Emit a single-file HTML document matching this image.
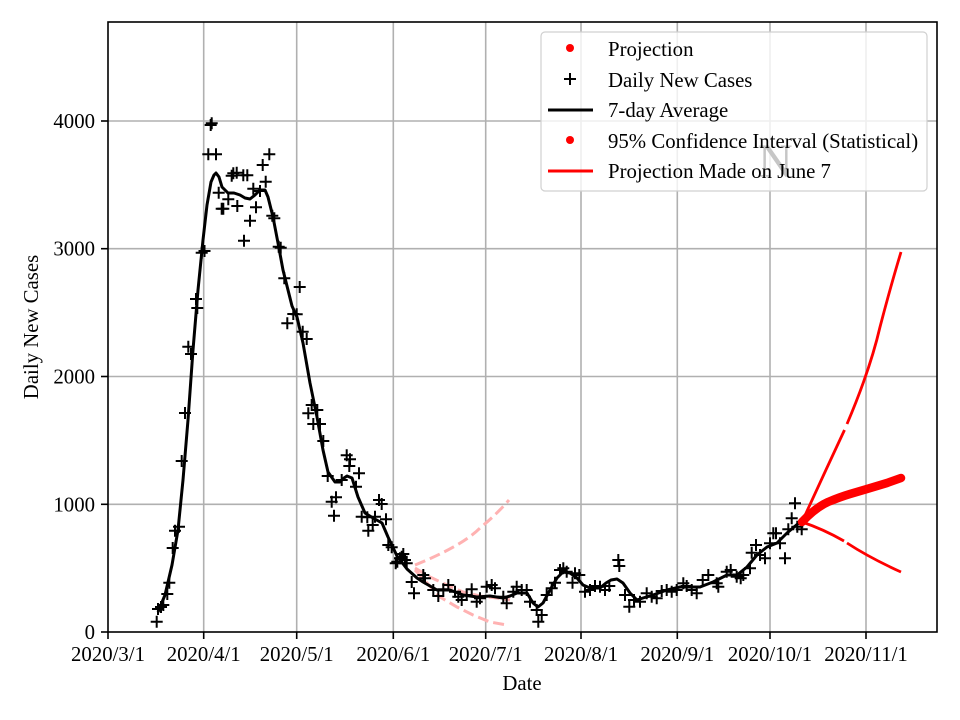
<!DOCTYPE html>
<html>
<head>
<meta charset="utf-8">
<style>
html,body{margin:0;padding:0;background:#fff;}
svg{display:block;}
text{font-family:"Liberation Serif","DejaVu Serif",serif;fill:#000;}
</style>
</head>
<body>
<svg width="960" height="720" viewBox="0 0 960 720" xmlns="http://www.w3.org/2000/svg">
<defs>
<marker id="cr" markerUnits="userSpaceOnUse" markerWidth="14" markerHeight="14" refX="7" refY="7" viewBox="0 0 14 14" overflow="visible">
<path d="M1,7h12M7,1v12" stroke="#000" stroke-width="2" fill="none"/>
</marker>
</defs>
<rect x="0" y="0" width="960" height="720" fill="#fff"/>
<g stroke="#b0b0b0" stroke-width="1.6">
<line x1="203.7" y1="22" x2="203.7" y2="632"/>
<line x1="296.7" y1="22" x2="296.7" y2="632"/>
<line x1="393.3" y1="22" x2="393.3" y2="632"/>
<line x1="485.7" y1="22" x2="485.7" y2="632"/>
<line x1="581" y1="22" x2="581" y2="632"/>
<line x1="677.3" y1="22" x2="677.3" y2="632"/>
<line x1="770" y1="22" x2="770" y2="632"/>
<line x1="866" y1="22" x2="866" y2="632"/>
<line x1="108" y1="504.3" x2="937" y2="504.3"/>
<line x1="108" y1="376.5" x2="937" y2="376.5"/>
<line x1="108" y1="248.7" x2="937" y2="248.7"/>
<line x1="108" y1="121" x2="937" y2="121"/>
</g>
<g fill="none" stroke="#ffb2b2" stroke-width="3" stroke-dasharray="11 5">
<path d="M415,565 Q462,546 480,528 Q497,514 509,500"/>
<path d="M415,568 L430,577 L447,585 L463,592 L480,596 L497,598 L510,600"/>
<path d="M415,570 L427,583 L440,597 L457,607 L473,615 L490,622 L507,625"/>
</g>
<path fill="none" stroke="#000" stroke-width="3" stroke-linejoin="round" d="M158,612 L165,595 L172,565 L178,530 L183,480 L188,420 L193,350 L198,290 L203,240 L207,205 L211,182 L214,175 L216,173 L219,177 L222,187 L228,193 L234,193 L240,195 L245,198 L250,199 L255,195 L260,190 L265,190 L268,197 L273,217 L278,243 L283,270 L288,290 L292,306 L297,317 L303,343 L310,383 L317,417 L323,450 L328,472 L335,482 L340,482 L344,478 L347,476 L352,478 L358,497 L365,513 L373,518 L382,523 L388,537 L397,556 L407,569 L417,578 L423,582 L437,590 L450,590 L463,595 L477,597 L490,596 L503,598 L510,596 L517,593 L527,593 L533,603 L538,607 L543,603 L550,590 L557,578 L563,572 L570,573 L577,578 L583,585 L590,588 L600,588 L606,583 L611,580 L617,579 L623,583 L630,593 L637,600 L643,598 L653,595 L667,590 L680,587 L690,587 L700,587 L713,582 L727,575 L737,575 L747,567 L757,555 L767,547 L777,543 L787,533 L800,522"/>
<polyline fill="none" stroke="none" marker-start="url(#cr)" marker-mid="url(#cr)" marker-end="url(#cr)" points="156.7,621.7 158,609 161,607 163.3,605 167.3,594 169.3,582.7 172.7,548 175,530.7 179,526.7 181.7,461 185,413 188.3,346.7 191,354 196,299 197.3,308 201.7,252.7 204.5,251 208.3,154.3 216,154.3 210.7,125 211.7,123.3 218.7,192.7 221.7,208.7 223.3,208.7 228.3,199.3 231.7,175.7 233.3,173.3 236.7,172.7 237.3,206 243.3,175.3 244,240.7 247.3,175.3 250,220.7 253.3,188.7 256,207.3 260,191 262.7,165 265.7,181.7 269.3,154.3 272.3,215.7 274.3,218.3 278.7,246.7 280.7,247.7 284.3,278.3 287.3,323.3 293.3,314 296.7,314.3 299.7,287 302.7,331.7 306.7,339 308.3,413.3 311.7,405 313.3,424 317.3,410 320,424 323.3,441 327.7,476 331.7,501.7 334,515.7 336,497.3 341.7,480 346.7,455.3 350,459.3 349.3,466 356,486.7 359,473.3 361.7,516.7 367.3,517.3 368.3,530.7 372.7,525 375,516.7 379,500 381.7,504 386,519.3 388.3,545 391.7,547.3 395.7,563.3 397.3,561.7 400,558.3 401.7,556.7 403.3,554 405,560 406.7,563.3 411.7,582 414,593.3 423.3,575 425,578.3 433.3,590 438.3,596 443.3,589.3 448.3,585 455,591.7 458.3,596.7 461.7,600 466.7,595 471.7,589.3 476.7,601.7 480,598.3 486.7,586.7 491.7,585 495,588.3 503.3,596.7 506.7,603.3 513.3,591.7 516.7,586.7 521.7,590 526.7,590 530,601.7 536.7,610 538.3,621.7 541.7,615 546.7,595 551.7,588.3 555,582.7 560,570 563.3,568.3 566.7,571.7 572.5,582.7 575,573.3 579.3,575 585,591.7 590,590 595,586 600,586.7 605,590 609.3,586 618.3,560 619.3,566 625,595 629.3,606.7 634,600 640,601.7 646.7,593.3 651.7,596.7 656.7,598.3 661.7,591 666.7,590 671.7,591.7 676.7,590 683.3,583.3 686.7,586 691.7,590 696.7,593.3 702.7,580 708.3,575 716.7,583.3 718.3,586.7 726.7,571.7 730.7,570 736.7,576.7 740.7,578.3 743.3,575 750,568.3 751.7,552.7 756,545 760,555 765,558.3 770,543.3 773.3,533.3 776,533.3 780,543.3 785,558.3 788.3,529.3 791.7,518.3 795,503.3 797.3,526.7 801.7,529.3"/>
<path fill="none" stroke="#ff0000" stroke-width="8.5" stroke-linecap="round" stroke-linejoin="round" d="M802,522 Q815,508 828,502 Q840,497 850,494 L867,489 L887,483 L901,478"/>
<g fill="none" stroke="#ff0000" stroke-width="2.8" stroke-linejoin="round">
<path d="M802,522 Q823,476 844.5,430"/>
<path d="M847,424 Q870,370 880,327 Q891,285 901,252"/>
<path d="M802,522 Q823,529 844,541"/>
<path d="M847,543 Q870,558 901,572"/>
</g>
<rect x="108" y="22" width="829" height="610" fill="none" stroke="#000" stroke-width="1.6"/>
<g stroke="#000" stroke-width="1.6">
<line x1="108" y1="632" x2="108" y2="639"/>
<line x1="203.7" y1="632" x2="203.7" y2="639"/>
<line x1="296.7" y1="632" x2="296.7" y2="639"/>
<line x1="393.3" y1="632" x2="393.3" y2="639"/>
<line x1="485.7" y1="632" x2="485.7" y2="639"/>
<line x1="581" y1="632" x2="581" y2="639"/>
<line x1="677.3" y1="632" x2="677.3" y2="639"/>
<line x1="770" y1="632" x2="770" y2="639"/>
<line x1="866" y1="632" x2="866" y2="639"/>
<line x1="101" y1="632" x2="108" y2="632"/>
<line x1="101" y1="504.3" x2="108" y2="504.3"/>
<line x1="101" y1="376.5" x2="108" y2="376.5"/>
<line x1="101" y1="248.7" x2="108" y2="248.7"/>
<line x1="101" y1="121" x2="108" y2="121"/>
</g>
<g font-size="20.8" text-anchor="middle">
<text x="108" y="661">2020/3/1</text>
<text x="203.7" y="661">2020/4/1</text>
<text x="296.7" y="661">2020/5/1</text>
<text x="393.3" y="661">2020/6/1</text>
<text x="485.7" y="661">2020/7/1</text>
<text x="581" y="661">2020/8/1</text>
<text x="677.3" y="661">2020/9/1</text>
<text x="770" y="661">2020/10/1</text>
<text x="866" y="661">2020/11/1</text>
</g>
<g font-size="20.8" text-anchor="end">
<text x="95" y="639">0</text>
<text x="95" y="511.3">1000</text>
<text x="95" y="383.5">2000</text>
<text x="95" y="255.7">3000</text>
<text x="95" y="128">4000</text>
</g>
<text x="522" y="690" font-size="20.8" text-anchor="middle">Date</text>
<text x="0" y="0" font-size="20.8" text-anchor="middle" transform="translate(38,327) rotate(-90)">Daily New Cases</text>
<rect x="541" y="32" width="386" height="159" rx="4" ry="4" fill="#ffffff" fill-opacity="0.8" stroke="#d0d0d0" stroke-width="1.2"/>
<text x="758" y="177" font-size="48" style="fill:#c6c6c6">N</text>
<circle cx="570" cy="48" r="4" fill="#ff0000"/>
<path d="M564,79h12M570,73v12" stroke="#000" stroke-width="2" fill="none"/>
<line x1="548" y1="110" x2="593" y2="110" stroke="#000" stroke-width="3"/>
<circle cx="570" cy="140" r="4" fill="#ff0000"/>
<line x1="548" y1="171" x2="593" y2="171" stroke="#ff0000" stroke-width="3"/>
<g font-size="20.8">
<text x="608" y="56">Projection</text>
<text x="608" y="87">Daily New Cases</text>
<text x="608" y="117">7-day Average</text>
<text x="608" y="148">95% Confidence Interval (Statistical)</text>
<text x="608" y="178">Projection Made on June 7</text>
</g>
</svg>
</body>
</html>
